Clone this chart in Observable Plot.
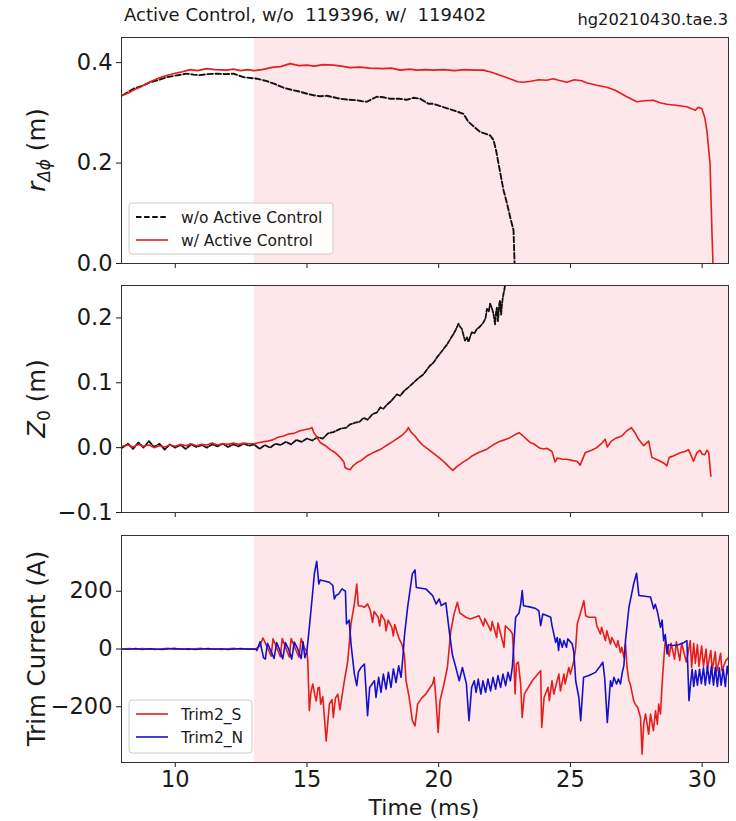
<!DOCTYPE html>
<html><head><meta charset="utf-8">
<script src="https://cdn.jsdelivr.net/npm/d3@7"></script>
<script src="https://cdn.jsdelivr.net/npm/@observablehq/plot@0.6"></script>
<style>
body{margin:0;background:#fff;font-family:"DejaVu Sans",sans-serif;color:#1a1a1a;}
#wrap{position:relative;width:736px;height:821px;overflow:hidden;}
#title{position:absolute;left:124px;top:4px;font-size:18px;white-space:pre;z-index:2;}
#tag{position:absolute;right:8px;top:10px;font-size:16.3px;white-space:pre;z-index:2;}
svg{display:block;}
</style></head><body>
<div id="wrap">
<div id="title">Active Control, w/o  119396, w/  119402</div>
<div id="tag">hg20210430.tae.3</div>
<div id="charts"></div>
</div>
<script>
// ---------- data ----------
const xTicks = [10, 15, 20, 25, 30];
const shadeStart = 13;   // active control window start (ms)
const shadeEnd = 31;
const legendTop = ["w/o Active Control", "w/ Active Control"];
const legendBottom = ["Trim2_S", "Trim2_N"];

// r_Δφ (m) without active control (shot 119396)
const rNoControl = [[8.0,0.335],[8.42,0.348],[8.8,0.355],[9.05,0.361],[9.4,0.366],[9.68,0.371],[10.0,0.374],[10.44,0.378],[10.7,0.376],[10.93,0.375],[11.2,0.377],[11.58,0.378],[11.9,0.377],[12.21,0.378],[12.59,0.371],[13.1,0.368],[13.48,0.363],[13.8,0.357],[14.11,0.350],[14.4,0.346],[14.74,0.342],[15.0,0.338],[15.25,0.335],[15.5,0.333],[15.76,0.334],[16.0,0.331],[16.26,0.328],[16.6,0.326],[16.9,0.325],[17.1,0.323],[17.27,0.322],[17.45,0.327],[17.65,0.332],[17.9,0.331],[18.16,0.328],[18.5,0.328],[18.79,0.326],[19.05,0.330],[19.3,0.328],[19.61,0.318],[19.8,0.318],[20.2,0.311],[20.56,0.305],[20.94,0.298],[21.13,0.282],[21.35,0.272],[21.57,0.262],[21.8,0.258],[21.95,0.255],[22.08,0.246],[22.18,0.225],[22.27,0.199],[22.46,0.146],[22.6,0.118],[22.71,0.093],[22.84,0.066],[22.88,0.0]];
// r_Δφ (m) with active control (shot 119402)
const rWithControl = [[8.0,0.335],[8.2,0.339],[8.4,0.345],[8.7,0.352],[9.05,0.362],[9.4,0.370],[9.7,0.375],[9.93,0.378],[10.2,0.381],[10.57,0.386],[10.85,0.384],[11.2,0.388],[11.5,0.386],[11.96,0.385],[12.2,0.387],[12.47,0.384],[12.75,0.386],[12.97,0.384],[13.3,0.386],[13.73,0.391],[14.0,0.392],[14.36,0.398],[14.7,0.394],[14.99,0.395],[15.3,0.393],[15.6,0.396],[16.0,0.395],[16.3,0.393],[16.64,0.390],[17.0,0.391],[17.4,0.389],[17.9,0.388],[18.2,0.389],[18.54,0.385],[18.9,0.387],[19.17,0.385],[19.5,0.386],[19.8,0.385],[20.2,0.386],[20.6,0.384],[21.0,0.386],[21.4,0.385],[21.7,0.385],[22.0,0.381],[22.33,0.375],[22.7,0.368],[23.0,0.362],[23.2,0.361],[23.5,0.363],[23.8,0.366],[24.1,0.365],[24.35,0.368],[24.55,0.365],[24.87,0.361],[25.15,0.366],[25.43,0.364],[25.6,0.360],[26.0,0.355],[26.38,0.351],[26.7,0.345],[27.14,0.332],[27.52,0.322],[27.8,0.324],[28.15,0.325],[28.4,0.320],[28.66,0.317],[29.0,0.315],[29.42,0.312],[29.6,0.308],[29.75,0.305],[29.85,0.311],[29.99,0.308],[30.1,0.290],[30.18,0.265],[30.3,0.199],[30.37,0.066],[30.41,0.0]];

// Z0 (m) without active control
const zNoControl = [[8.0,0.0],[8.2,0.006],[8.4,-0.002],[8.6,0.008],[8.8,0.0],[9.0,0.01],[9.2,0.001],[9.4,0.006],[9.6,-0.003],[9.8,0.005],[10.0,0.0],[10.2,0.004],[10.4,-0.002],[10.6,0.005],[10.8,0.001],[11.0,0.004],[11.2,0.0],[11.4,0.005],[11.6,0.002],[11.8,0.006],[12.0,0.001],[12.2,0.005],[12.4,0.002],[12.6,0.006],[12.8,0.003],[13.0,0.005],[13.2,-0.002],[13.4,0.004],[13.6,0.0],[13.8,0.006],[14.0,0.004],[14.2,0.009],[14.4,0.005],[14.6,0.012],[14.8,0.009],[15.0,0.014],[15.2,0.011],[15.4,0.016],[15.6,0.014],[15.8,0.022],[16.0,0.024],[16.26,0.029],[16.5,0.031],[16.64,0.036],[16.8,0.038],[17.0,0.040],[17.15,0.046],[17.3,0.043],[17.5,0.052],[17.65,0.054],[17.78,0.062],[17.9,0.060],[18.03,0.066],[18.2,0.072],[18.41,0.082],[18.54,0.080],[18.7,0.088],[18.85,0.093],[19.04,0.100],[19.2,0.106],[19.42,0.113],[19.55,0.120],[19.66,0.126],[19.8,0.131],[19.95,0.140],[20.05,0.145],[20.18,0.152],[20.3,0.158],[20.45,0.168],[20.56,0.175],[20.65,0.182],[20.75,0.191],[20.82,0.186],[20.88,0.183],[20.95,0.172],[21.0,0.165],[21.07,0.170],[21.13,0.163],[21.2,0.172],[21.26,0.178],[21.35,0.176],[21.45,0.183],[21.55,0.186],[21.7,0.193],[21.78,0.200],[21.83,0.214],[21.9,0.210],[21.95,0.222],[22.02,0.215],[22.08,0.206],[22.14,0.190],[22.18,0.210],[22.21,0.216],[22.25,0.195],[22.3,0.222],[22.33,0.227],[22.37,0.205],[22.4,0.220],[22.43,0.230],[22.46,0.237],[22.5,0.245],[22.55,0.262]];
// Z0 (m) with active control
const zWithControl = [[8.0,0.002],[8.2,0.004],[8.4,0.001],[8.6,0.005],[8.8,0.002],[9.0,0.004],[9.2,0.0],[9.4,0.003],[9.6,0.001],[9.8,0.004],[10.0,0.002],[10.2,0.005],[10.4,0.003],[10.6,0.006],[10.8,0.003],[11.0,0.005],[11.2,0.004],[11.4,0.007],[11.6,0.004],[11.8,0.006],[12.0,0.005],[12.2,0.007],[12.4,0.005],[12.6,0.007],[12.8,0.006],[13.0,0.006],[13.2,0.008],[13.48,0.010],[13.7,0.012],[13.9,0.016],[14.11,0.018],[14.3,0.021],[14.5,0.022],[14.74,0.026],[14.95,0.028],[15.1,0.029],[15.19,0.031],[15.25,0.024],[15.35,0.018],[15.5,0.008],[15.7,0.003],[15.88,-0.003],[16.05,-0.007],[16.26,-0.015],[16.4,-0.022],[16.45,-0.031],[16.55,-0.033],[16.64,-0.034],[16.75,-0.028],[16.9,-0.023],[17.05,-0.020],[17.27,-0.013],[17.5,-0.008],[17.78,-0.003],[18.0,0.003],[18.28,0.010],[18.5,0.016],[18.66,0.021],[18.78,0.026],[18.85,0.031],[18.95,0.024],[19.1,0.018],[19.25,0.010],[19.42,0.003],[19.68,-0.005],[20.0,-0.015],[20.2,-0.022],[20.4,-0.030],[20.54,-0.035],[20.7,-0.029],[20.9,-0.023],[21.1,-0.018],[21.26,-0.013],[21.5,-0.008],[21.8,-0.003],[22.05,0.004],[22.33,0.010],[22.5,0.012],[22.69,0.015],[22.9,0.020],[23.05,0.023],[23.2,0.018],[23.47,0.008],[23.6,0.006],[23.85,-0.001],[24.0,-0.002],[24.1,-0.001],[24.3,-0.006],[24.42,-0.022],[24.5,-0.016],[24.7,-0.018],[24.86,-0.018],[25.1,-0.020],[25.25,-0.021],[25.37,-0.027],[25.56,-0.008],[25.8,-0.004],[26.0,0.0],[26.2,0.007],[26.32,0.013],[26.4,0.001],[26.55,0.010],[26.7,0.014],[26.95,0.018],[27.14,0.026],[27.31,0.031],[27.45,0.023],[27.6,0.012],[27.78,0.003],[27.97,0.010],[28.09,-0.015],[28.25,-0.018],[28.41,-0.021],[28.55,-0.024],[28.66,-0.028],[28.75,-0.015],[28.9,-0.013],[29.17,-0.008],[29.35,-0.006],[29.48,-0.003],[29.58,-0.012],[29.67,-0.021],[29.8,-0.008],[29.92,-0.004],[30.0,-0.010],[30.1,-0.011],[30.18,-0.004],[30.25,-0.008],[30.33,-0.044]];

// Trim coil currents (A)
const trimS = [[8.0,0],[8.25,2],[8.5,-1],[8.75,2],[9.0,0],[9.25,-2],[9.5,1],[9.75,2],[10.0,-1],[10.25,1],[10.5,-2],[10.75,1],[11.0,2],[11.25,-1],[11.5,1],[11.75,-2],[12.0,1],[12.25,2],[12.5,-1],[12.75,1],[13.05,0],[13.2,10],[13.33,38],[13.5,5],[13.64,-25],[13.71,35],[13.85,5],[13.99,-27],[14.06,36],[14.2,3],[14.33,-28],[14.4,36],[14.55,2],[14.7,-28],[14.78,36],[14.9,5],[15.0,-10],[15.03,-41],[15.09,-214],[15.15,-150],[15.22,-121],[15.3,-160],[15.35,-180],[15.42,-135],[15.47,-133],[15.52,-191],[15.6,-165],[15.73,-318],[15.85,-191],[15.95,-175],[16.0,-237],[16.08,-170],[16.17,-156],[16.25,-210],[16.42,-110],[16.55,-41],[16.67,87],[16.8,156],[16.89,225],[16.95,150],[17.1,148],[17.18,144],[17.3,156],[17.4,135],[17.49,92],[17.55,130],[17.7,110],[17.76,80],[17.82,120],[17.95,100],[18.0,63],[18.08,100],[18.22,75],[18.28,45],[18.33,85],[18.5,35],[18.6,17],[18.7,-20],[18.76,-110],[18.88,-168],[19.0,-248],[19.1,-266],[19.2,-191],[19.35,-170],[19.51,-156],[19.7,-130],[19.77,-121],[19.83,-98],[19.9,-180],[19.98,-289],[20.05,-179],[20.2,-121],[20.33,-64],[20.46,63],[20.58,120],[20.71,162],[20.8,125],[21.03,110],[21.2,104],[21.53,115],[21.7,80],[21.75,105],[21.98,63],[22.03,95],[22.2,40],[22.25,90],[22.48,6],[22.53,80],[22.73,63],[22.8,52],[22.85,-29],[22.9,-156],[22.95,-52],[23.02,-45],[23.11,-121],[23.17,-237],[23.25,-156],[23.55,-110],[23.87,-75],[23.91,-272],[24.0,-168],[24.15,-133],[24.2,-179],[24.3,-110],[24.37,-156],[24.56,-87],[24.62,-145],[24.75,-87],[24.8,-121],[24.94,-64],[25.0,-87],[25.13,-41],[25.2,6],[25.26,87],[25.39,127],[25.51,167],[25.58,115],[25.7,110],[25.95,110],[26.0,81],[26.14,52],[26.18,75],[26.33,29],[26.38,63],[26.52,17],[26.57,40],[26.75,6],[26.8,29],[26.9,-12],[26.95,6],[27.03,-29],[27.09,17],[27.15,-64],[27.22,-110],[27.27,-121],[27.4,-179],[27.46,-191],[27.55,-202],[27.66,-237],[27.72,-364],[27.78,-260],[27.85,-225],[27.97,-295],[28.04,-225],[28.15,-283],[28.23,-214],[28.3,-260],[28.35,-191],[28.42,-225],[28.48,-121],[28.54,-41],[28.6,29],[28.67,6],[28.75,-25],[28.82,20],[28.95,-35],[29.02,25],[29.15,-40],[29.22,20],[29.4,-45],[29.55,29],[29.6,-64],[29.68,20],[29.74,-50],[29.82,15],[29.88,-60],[29.98,10],[30.05,-60],[30.15,0],[30.2,-70],[30.33,-5],[30.38,-75],[30.5,-10],[30.55,-80],[30.7,-15],[30.75,-75],[30.9,-40],[31.0,-30]];
const trimN = [[8.0,0],[8.25,-1],[8.5,2],[8.75,-2],[9.0,1],[9.25,0],[9.5,-2],[9.75,1],[10.0,2],[10.25,-1],[10.5,1],[10.75,-2],[11.0,0],[11.25,2],[11.5,-1],[11.75,1],[12.0,-2],[12.25,0],[12.5,2],[12.75,-1],[13.05,0],[13.1,-5],[13.22,25],[13.35,-30],[13.42,-35],[13.5,20],[13.6,0],[13.75,-33],[13.85,22],[13.95,0],[14.08,-34],[14.18,22],[14.3,0],[14.42,-35],[14.52,24],[14.65,0],[14.78,-33],[14.85,25],[14.92,-30],[15.0,-5],[15.09,75],[15.2,180],[15.28,260],[15.37,304],[15.45,225],[15.5,239],[15.85,231],[15.98,220],[16.04,173],[16.1,185],[16.2,190],[16.33,208],[16.46,200],[16.5,87],[16.6,100],[16.68,10],[16.8,-87],[16.89,-127],[16.95,-80],[17.05,-64],[17.18,-52],[17.3,-231],[17.38,-133],[17.56,-110],[17.62,-168],[17.72,-98],[17.81,-150],[17.9,-87],[18.0,-139],[18.09,-81],[18.19,-133],[18.28,-69],[18.38,-116],[18.48,-58],[18.57,-98],[18.63,-41],[18.7,46],[18.82,144],[19.0,260],[19.1,274],[19.15,213],[19.51,208],[19.77,185],[19.9,156],[20.02,173],[20.1,150],[20.27,160],[20.4,63],[20.52,-20],[20.65,-64],[20.78,-110],[20.9,-64],[21.05,-120],[21.15,-248],[21.25,-133],[21.35,-110],[21.42,-150],[21.5,-104],[21.6,-156],[21.68,-110],[21.78,-150],[21.87,-104],[21.97,-145],[22.06,-98],[22.16,-139],[22.25,-92],[22.35,-133],[22.44,-87],[22.54,-127],[22.63,-81],[22.72,-110],[22.8,-58],[22.92,110],[23.05,125],[23.12,160],[23.17,202],[23.22,150],[23.49,145],[23.68,140],[23.8,133],[23.87,81],[23.95,121],[24.1,116],[24.25,110],[24.3,81],[24.44,23],[24.5,40],[24.55,-5],[24.6,35],[24.69,6],[24.75,29],[24.85,6],[24.9,35],[25.07,17],[25.13,-12],[25.2,-110],[25.32,-168],[25.39,-248],[25.5,-98],[25.7,-92],[25.95,-81],[26.14,-58],[26.23,-46],[26.3,-100],[26.4,-254],[26.52,-110],[26.58,-130],[26.65,-98],[26.75,-121],[26.82,-104],[26.9,-121],[26.97,-80],[27.03,-57],[27.09,29],[27.22,144],[27.4,225],[27.51,262],[27.6,185],[28.04,180],[28.16,139],[28.22,155],[28.3,130],[28.42,75],[28.48,100],[28.54,29],[28.6,50],[28.67,-17],[28.72,15],[28.9,12],[29.1,15],[29.3,22],[29.42,29],[29.5,-179],[29.56,-121],[29.62,-70],[29.68,-130],[29.75,-75],[29.82,-125],[29.9,-70],[29.97,-120],[30.05,-65],[30.12,-125],[30.2,-60],[30.28,-120],[30.35,-60],[30.43,-125],[30.5,-64],[30.58,-130],[30.65,-65],[30.72,-125],[30.8,-70],[30.88,-130],[30.95,-60],[31.0,-90]];

// ---------- styles ----------
const RED = "#e41e1c", BLUE = "#1212cc", BLACK = "#111";
const FONT = "DejaVu Sans";
const xDomain = [7.96, 31];
const toObj = arr => arr.map(([t, v]) => ({t, v}));
const shade = [{x1: shadeStart, x2: shadeEnd}];

function panel({height, marginTop, marginBottom, yDomain, yTicks, yFmt, lines, showX}) {
  return Plot.plot({
    width: 736, height, marginLeft: 121, marginRight: 8, marginTop, marginBottom,
    style: {fontFamily: FONT, fontSize: "22.5px", color: "#1a1a1a", background: "transparent", overflow: "visible"},
    x: {domain: xDomain, ticks: xTicks, tickSize: 5, tickPadding: 4, label: null,
        tickFormat: showX ? d => String(d) : () => ""},
    y: {domain: yDomain, ticks: yTicks, tickSize: 5, tickPadding: 4, label: null, tickFormat: yFmt},
    marks: [
      Plot.rect(shade, {x1: "x1", x2: "x2", y1: () => yDomain[0], y2: () => yDomain[1], fill: "#fde7eb"}),
      ...lines,
      Plot.frame({stroke: "#333", strokeWidth: 1})
    ]
  });
}

function yLabel(svg, cy, parts) {
  const t = d3.select(svg).append("text")
    .attr("transform", `translate(45,${cy}) rotate(-90)`)
    .attr("text-anchor", "middle")
    .attr("font-family", FONT).attr("font-size", 24.5).attr("fill", "#1a1a1a");
  parts.forEach(p => {
    const s = t.append("tspan").text(p.text);
    if (p.italic) s.attr("font-style", "italic");
    if (p.sub) s.attr("font-size", 17).attr("dy", 5);
    if (p.up) s.attr("dy", -5);
  });
}

function legend(svg, x, y, w, h, items) {
  const g = d3.select(svg).append("g").attr("text-anchor", "start");
  g.append("rect").attr("x", x).attr("y", y).attr("width", w).attr("height", h)
    .attr("rx", 3).attr("fill", "#fff").attr("fill-opacity", 0.85).attr("stroke", "#ccc");
  items.forEach((it, i) => {
    const yy = y + 14 + i * 23;
    g.append("line").attr("x1", x + 7).attr("x2", x + 39).attr("y1", yy).attr("y2", yy)
      .attr("stroke", it.color).attr("stroke-width", it.width || 1.6)
      .attr("stroke-dasharray", it.dash || null);
    g.append("text").attr("x", x + 52).attr("y", yy + 5.5).text(it.label)
      .attr("text-anchor", "start")
      .attr("font-family", FONT).attr("font-size", 15.5).attr("fill", "#1a1a1a");
  });
}

const charts = document.getElementById("charts");

// Panel 1: r_Δφ
const p1 = panel({
  height: 274, marginTop: 37, marginBottom: 11,
  yDomain: [0, 0.45], yTicks: [0, 0.2, 0.4], yFmt: d3.format(".1f"),
  lines: [
    Plot.line(toObj(rNoControl), {x: "t", y: "v", stroke: BLACK, strokeWidth: 1.9, strokeDasharray: "5.5,2.6", clip: true}),
    Plot.line(toObj(rWithControl), {x: "t", y: "v", stroke: RED, strokeWidth: 1.6, clip: true})
  ]
});
charts.appendChild(p1);
yLabel(p1, 150, [{text: "r", italic: true}, {text: "Δϕ", italic: true, sub: true}, {text: " (m)", up: true}]);
legend(p1, 129, 203, 204, 51, [
  {label: legendTop[0], color: BLACK, dash: "5.5,2.6", width: 1.9},
  {label: legendTop[1], color: RED}
]);

// Panel 2: Z0
const p2 = panel({
  height: 249, marginTop: 11, marginBottom: 11,
  yDomain: [-0.1, 0.25], yTicks: [-0.1, 0, 0.1, 0.2], yFmt: d3.format(".1f"),
  lines: [
    Plot.line(toObj(zNoControl), {x: "t", y: "v", stroke: BLACK, strokeWidth: 1.8, strokeDasharray: "4.5,1.8", clip: true}),
    Plot.line(toObj(zWithControl), {x: "t", y: "v", stroke: RED, strokeWidth: 1.6, clip: true})
  ]
});
charts.appendChild(p2);
yLabel(p2, 124.5, [{text: "Z", italic: true}, {text: "0", sub: true}, {text: " (m)", up: true}]);

// Panel 3: trim currents
const p3 = panel({
  height: 298, marginTop: 12, marginBottom: 59,
  yDomain: [-393, 393], yTicks: [-200, 0, 200], yFmt: d3.format("d"),
  showX: true,
  lines: [
    Plot.line(toObj(trimS), {x: "t", y: "v", stroke: RED, strokeWidth: 1.6, clip: true}),
    Plot.line(toObj(trimN), {x: "t", y: "v", stroke: BLUE, strokeWidth: 1.6, clip: true})
  ]
});
charts.appendChild(p3);
yLabel(p3, 125.5, [{text: "Trim Current (A)"}]);
d3.select(p3).append("text").attr("x", 424).attr("y", 292).attr("text-anchor", "middle")
  .attr("font-family", FONT).attr("font-size", 22).attr("fill", "#1a1a1a").text("Time (ms)");
legend(p3, 129, 177, 123, 53, [
  {label: legendBottom[0], color: RED},
  {label: legendBottom[1], color: BLUE}
]);
</script>
</body></html>
